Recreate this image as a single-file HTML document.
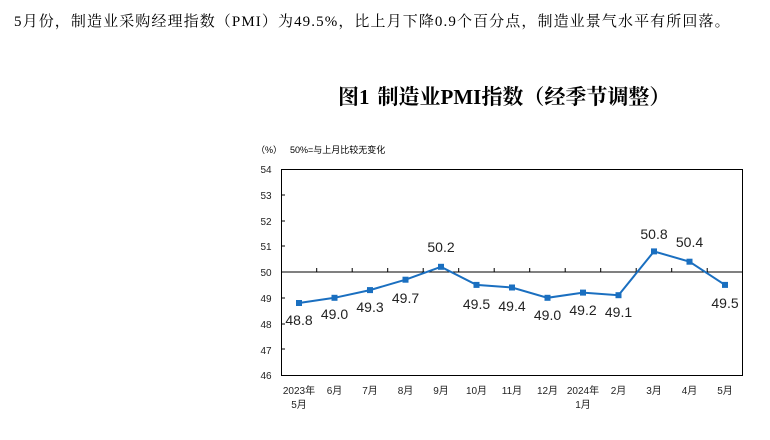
<!DOCTYPE html>
<html><head><meta charset="utf-8"><style>
body{margin:0;width:770px;height:440px;background:#fff;overflow:hidden;position:relative}
.h{position:absolute;left:14px;top:10px;font:15px "Liberation Serif","Noto Serif CJK SC",serif;color:#000;white-space:nowrap;letter-spacing:1.1px}
</style></head><body>
<div class="h">5月份，制造业采购经理指数（PMI）为49.5%，比上月下降0.9个百分点，制造业景气水平有所回落。</div>
<svg width="770" height="440" style="position:absolute;left:0;top:0" font-family="Liberation Sans,Noto Sans CJK SC,sans-serif">
<text x="338" y="104" font-size="21" font-weight="bold" font-family="Liberation Serif,Noto Serif CJK SC,serif">图1<tspan dx="8">制造业PMI指数（经季节调整）</tspan></text>
<text x="256" y="153" font-size="9">（%）</text>
<text x="290" y="153" font-size="9">50%=与上月比较无变化</text>
<g font-size="10" text-anchor="middle" fill="#222">
<text x="266" y="173">54</text><text x="266" y="199">53</text><text x="266" y="225">52</text><text x="266" y="250">51</text><text x="266" y="276">50</text><text x="266" y="302">49</text><text x="266" y="328">48</text><text x="266" y="354">47</text><text x="266" y="379">46</text>
</g>
<rect x="281.5" y="169.5" width="461" height="206" fill="none" stroke="#000" stroke-width="1"/>
<g stroke="#000">
<line x1="281" y1="272" x2="742" y2="272"/>
<line x1="281" y1="195" x2="285" y2="195"/><line x1="281" y1="221" x2="285" y2="221"/><line x1="281" y1="246" x2="285" y2="246"/><line x1="281" y1="298" x2="285" y2="298"/><line x1="281" y1="324" x2="285" y2="324"/><line x1="281" y1="349" x2="285" y2="349"/>
<path d="M316.7 272v-4M352.2 272v-4M387.7 272v-4M423.2 272v-4M458.7 272v-4M494.2 272v-4M529.7 272v-4M565.2 272v-4M600.7 272v-4M636.2 272v-4M671.7 272v-4M707.2 272v-4"/>
</g>
<polyline fill="none" stroke="#1a6fc0" stroke-width="2" points="299,303 334.5,297.8 370,290.1 405.5,279.7 441,266.8 476.5,284.9 512,287.5 547.5,297.8 583,292.6 618.5,295.2 654,251.4 689.5,261.7 725,284.9"/>
<g fill="#1a6fc0">
<rect x="296" y="300" width="6" height="6"/><rect x="331.5" y="294.8" width="6" height="6"/><rect x="367" y="287.1" width="6" height="6"/><rect x="402.5" y="276.7" width="6" height="6"/><rect x="438" y="263.8" width="6" height="6"/><rect x="473.5" y="281.9" width="6" height="6"/><rect x="509" y="284.5" width="6" height="6"/><rect x="544.5" y="294.8" width="6" height="6"/><rect x="580" y="289.6" width="6" height="6"/><rect x="615.5" y="292.2" width="6" height="6"/><rect x="651" y="248.4" width="6" height="6"/><rect x="686.5" y="258.7" width="6" height="6"/><rect x="722" y="281.9" width="6" height="6"/>
</g>
<g font-size="14" text-anchor="middle" fill="#222">
<text x="299" y="325">48.8</text><text x="334.5" y="319">49.0</text><text x="370" y="312">49.3</text><text x="405.5" y="303">49.7</text><text x="441" y="252">50.2</text><text x="476.5" y="309">49.5</text><text x="512" y="311">49.4</text><text x="547.5" y="320">49.0</text><text x="583" y="315">49.2</text><text x="618.5" y="317">49.1</text><text x="654" y="239">50.8</text><text x="689.5" y="247">50.4</text><text x="725" y="308">49.5</text>
</g>
<g font-size="10" text-anchor="middle" fill="#222">
<text x="299" y="394">2023年</text><text x="299" y="408">5月</text>
<text x="334.5" y="394">6月</text><text x="370" y="394">7月</text><text x="405.5" y="394">8月</text><text x="441" y="394">9月</text><text x="476.5" y="394">10月</text><text x="512" y="394">11月</text><text x="547.5" y="394">12月</text>
<text x="583" y="394">2024年</text><text x="583" y="408">1月</text>
<text x="618.5" y="394">2月</text><text x="654" y="394">3月</text><text x="689.5" y="394">4月</text><text x="725" y="394">5月</text>
</g>
</svg>
</body></html>
